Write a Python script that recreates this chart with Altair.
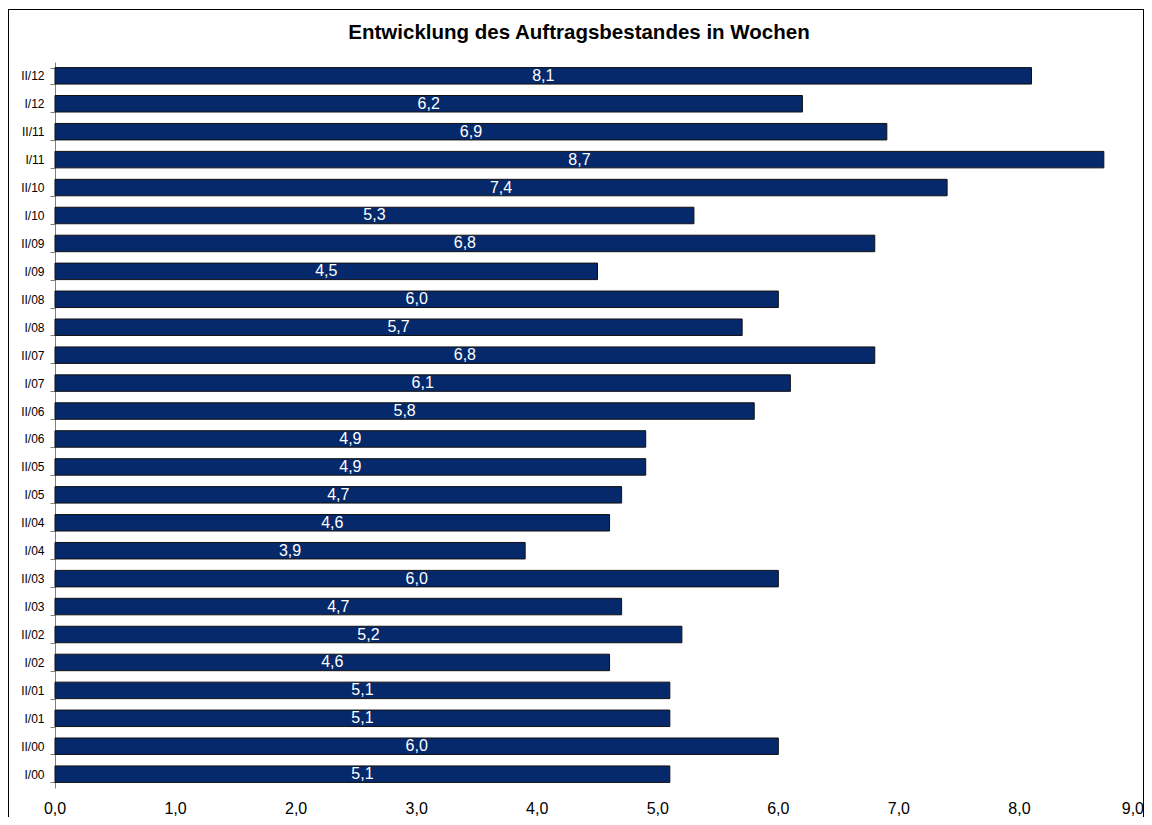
import altair as alt
import pandas as pd

periods = ["I/00", "II/00", "I/01", "II/01", "I/02", "II/02", "I/03", "II/03",
           "I/04", "II/04", "I/05", "II/05", "I/06", "II/06", "I/07", "II/07",
           "I/08", "II/08", "I/09", "II/09", "I/10", "II/10", "I/11", "II/11",
           "I/12", "II/12"]
values = [5.1, 6.0, 5.1, 5.1, 4.6, 5.2, 4.7, 6.0,
          3.9, 4.6, 4.7, 4.9, 4.9, 5.8, 6.1, 6.8,
          5.7, 6.0, 4.5, 6.8, 5.3, 7.4, 8.7, 6.9,
          6.2, 8.1]
x_ticks = [0, 1, 2, 3, 4, 5, 6, 7, 8, 9]
title_text = "Entwicklung des Auftragsbestandes in Wochen"

df = pd.DataFrame({"period": periods, "value": values})
ticks_df = pd.DataFrame({"v": x_ticks})
order = list(reversed(periods))

W, H = 1085, 726
FONT = "Liberation Sans"
fmt_value = "replace(format(datum.value, '.1f'), '.', ',')"
fmt_tick = "replace(format(datum.v, '.1f'), '.', ',')"

y_enc = alt.Y("period:N", sort=order,
              scale=alt.Scale(paddingInner=0.41, paddingOuter=0.2),
              axis=alt.Axis(title=None, tickBand="extent", labelFontSize=12,
                            labelColor="black", domainColor="#808080",
                            tickColor="#808080", tickSize=5, labelPadding=6,
                            labelFont=FONT))

bars = alt.Chart(df).mark_bar(color="#06296B", stroke="#111111", strokeWidth=1).encode(
    x=alt.X("value:Q", scale=alt.Scale(domain=[0, 9], nice=False),
            axis=alt.Axis(title=None, values=x_ticks, grid=False, labels=False,
                          domainColor="#808080", tickColor="#808080", tickSize=6)),
    y=y_enc,
)

labels = alt.Chart(df).transform_calculate(
    mid="datum.value / 2",
    txt=fmt_value
).mark_text(color="white", fontSize=16, font=FONT, baseline="middle", align="center").encode(
    x=alt.X("mid:Q"),
    y=alt.Y("period:N", sort=order),
    text="txt:N",
)

tick_base = alt.Chart(ticks_df).transform_calculate(lbl=fmt_tick)

tick_labels_mid = tick_base.transform_filter("datum.v < 9").mark_text(
    fontSize=16, font=FONT, color="black", baseline="top", align="center"
).encode(x=alt.X("v:Q", axis=None), y=alt.value(H + 13), text="lbl:N")

tick_label_last = tick_base.transform_filter("datum.v >= 9").mark_text(
    fontSize=16, font=FONT, color="black", baseline="top", align="right", dx=4
).encode(x=alt.X("v:Q", axis=None), y=alt.value(H + 13), text="lbl:N")

frame = alt.Chart(df).mark_rect(fill=None, stroke="black", strokeWidth=1).encode(
    x=alt.value(-46.5), x2=alt.value(W + 3.5),
    y=alt.value(-52.5), y2=alt.value(H + 80),
)

title = alt.Chart(pd.DataFrame({"t": [title_text]})).mark_text(
    font=FONT, fontSize=20.5, fontWeight="bold", color="black",
    align="center", baseline="middle"
).encode(x=alt.value(524), y=alt.value(-29), text="t:N")

chart = alt.layer(frame, bars, labels, tick_labels_mid, tick_label_last, title).properties(
    width=W, height=H,
    autosize=alt.AutoSizeParams(type="none"),
    padding={"left": 47, "top": 54, "right": 4, "bottom": 29},
).configure_view(stroke=None).configure_axis(grid=False)

chart.save("out.html", embed_options={"renderer": "svg", "actions": False})
